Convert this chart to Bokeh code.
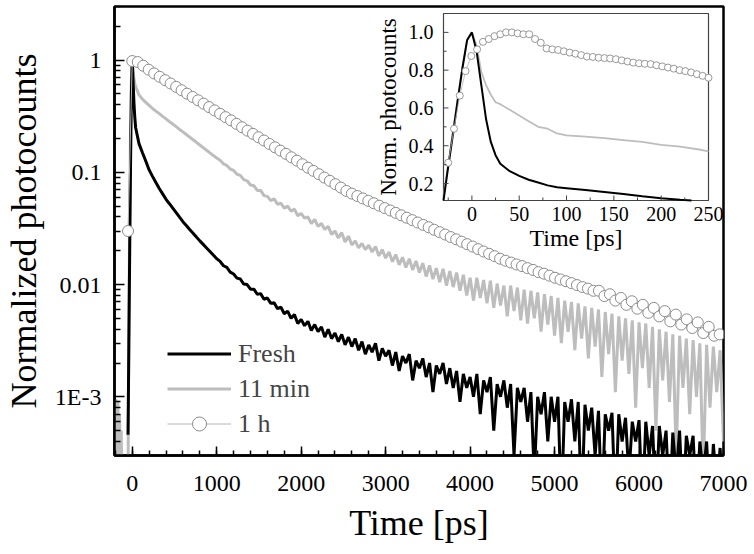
import math
from bokeh.plotting import figure
from bokeh.models import (Legend, LegendItem, FixedTicker, SingleIntervalTicker,
                          CustomJSTickFormatter, Range1d, LinearScale)
from bokeh.core.properties import value
from bokeh.embed import file_html
from bokeh.resources import INLINE
import json

# ---------------- data: main panel ----------------
t_fresh_pre = [-50, -46, -40, -30, -20, -10, 0, 10, 20, 30]
v_fresh_pre = [0.00046, 0.0009, 0.003, 0.02, 0.12, 0.5, 1.0, 0.65, 0.42, 0.31]

t_11min_pre = [-210, -200, -190, -180, -170, -160, -150, -140, -130, -120, -110, -100,
               -90, -80, -70, -60, -50, -45, -40, -30, -20, -10, 0, 10, 20, 30]
v_11min_pre = [0.0006, 0.0001, 0.00095, 0.0002, 0.0009, 0.0001, 0.0007, 0.0002, 0.0005,
               0.0001, 0.0003, 0.0001, 0.0001, 0.0001, 0.0001, 0.0001, 0.0001, 0.001,
               0.004, 0.05, 0.25, 0.7, 1.0, 0.8, 0.68, 0.62]

# TCSPC time bins of the decay part (ps)
t_decay = list(range(40, 7001, 40))

v_fresh = [
    0.251, 0.180, 0.150, 0.126, 0.105,
    0.092, 0.081, 0.0718, 0.0643, 0.0575,
    0.0525, 0.0479, 0.0437, 0.0398, 0.0363,
    0.0336, 0.0310, 0.0287, 0.0265, 0.0245,
    0.0228, 0.0212, 0.0197, 0.0183, 0.0170,
    0.0161, 0.0147, 0.0142, 0.0129, 0.0124,
    0.0114, 0.0112, 0.0101, 0.0100, 0.0091,
    0.0091, 0.0082, 0.0083, 0.0074, 0.0076,
    0.0068, 0.0069, 0.0061, 0.0063, 0.0055,
    0.0058, 0.0050, 0.0054, 0.0045, 0.0049,
    0.0043, 0.0047, 0.0039, 0.0044, 0.0038,
    0.0042, 0.0034, 0.0040, 0.0033, 0.0037,
    0.0031, 0.0036, 0.0029, 0.0034, 0.0028,
    0.0033, 0.0026, 0.0031, 0.0024, 0.0029,
    0.0025, 0.0030, 0.0021, 0.0027, 0.0023,
    0.0026, 0.0019, 0.0025, 0.0017, 0.0023,
    0.0020, 0.0024, 0.0014, 0.0021, 0.0018,
    0.0022, 0.0015, 0.0020, 0.0011, 0.0019,
    0.0016, 0.0020, 0.0013, 0.0018, 0.0012,
    0.0017, 0.0009, 0.0016, 0.0012, 0.0015,
    0.0010, 0.0016, 0.0007, 0.0014, 0.0011,
    0.0015, 0.0005, 0.0013, 0.0010, 0.0014,
    0.0008, 0.0013, 0.0003, 0.0012, 0.0009,
    0.0012, 0.0006, 0.0011, 0.0002, 0.0010,
    0.0007, 0.0011, 0.0004, 0.0010, 0.0006,
    0.0010, 0.0001, 0.0009, 0.0006, 0.00095,
    0.0004, 0.0009, 0.0001, 0.00085, 0.0005,
    0.0008, 0.0003, 0.00075, 0.0001, 0.0007,
    0.0005, 0.00072, 0.0001, 0.0007, 0.0004,
    0.00065, 0.0002, 0.0006, 0.0004, 0.00062,
    0.0001, 0.0006, 0.0003, 0.00055, 0.0001,
    0.00055, 0.0003, 0.0005, 0.0001, 0.00048,
    0.0002, 0.0005, 0.0001, 0.00045, 0.0003,
    0.00045, 0.0001, 0.0004, 0.0002, 0.0004,
    0.0001, 0.00038, 0.00015, 0.00035, 0.0001,
]

v_11min = [
    0.58, 0.49, 0.45, 0.42, 0.395,
    0.37, 0.351, 0.333, 0.315, 0.299,
    0.283, 0.269, 0.255, 0.241, 0.229,
    0.217, 0.206, 0.195, 0.185, 0.175,
    0.166, 0.157, 0.149, 0.141, 0.134,
    0.128, 0.119, 0.115, 0.107, 0.104,
    0.096, 0.094, 0.086, 0.084, 0.077,
    0.076, 0.069, 0.069, 0.062, 0.061,
    0.056, 0.058, 0.052, 0.053, 0.048,
    0.050, 0.045, 0.047, 0.041, 0.043,
    0.039, 0.040, 0.035, 0.038, 0.033,
    0.035, 0.031, 0.033, 0.028, 0.030,
    0.026, 0.029, 0.024, 0.027, 0.0225,
    0.0245, 0.0212, 0.0232, 0.0205, 0.0224,
    0.0195, 0.0218, 0.0180, 0.0205, 0.0172,
    0.0195, 0.0160, 0.0185, 0.0150, 0.0175,
    0.0142, 0.0170, 0.0135, 0.0162, 0.0128,
    0.0155, 0.0118, 0.0148, 0.0112, 0.0140,
    0.0105, 0.0138, 0.0098, 0.0132, 0.0095,
    0.0128, 0.0088, 0.0122, 0.0080, 0.0115,
    0.0072, 0.0115, 0.0076, 0.0110, 0.0068,
    0.0108, 0.0062, 0.0102, 0.0065, 0.0098,
    0.0052, 0.0098, 0.0058, 0.0094, 0.0048,
    0.0090, 0.0045, 0.0088, 0.0050, 0.0085,
    0.0038, 0.0082, 0.0044, 0.0079, 0.0035,
    0.0076, 0.0030, 0.0072, 0.0038, 0.0070,
    0.0026, 0.0068, 0.0033, 0.0064, 0.0022,
    0.0062, 0.0028, 0.0060, 0.0015, 0.0057,
    0.0024, 0.0055, 0.0011, 0.0052, 0.0021,
    0.0050, 0.0016, 0.0048, 0.0008, 0.0046,
    0.0018, 0.0045, 0.0012, 0.0042, 0.0005,
    0.0040, 0.0014, 0.0038, 0.0009, 0.0036,
    0.0003, 0.0035, 0.0012, 0.0033, 0.0007,
    0.0032, 0.0010, 0.0030, 0.0002, 0.0029,
    0.0008, 0.0028, 0.0011, 0.0026, 0.0004,
]

# 1 h sample: marker points every 65 ps
t_1h = [-50] + list(range(0, 7000, 65))
v_1h = [
    0.03,
    0.98, 0.96, 0.89, 0.82, 0.76, 0.709, 0.662, 0.618, 0.577, 0.538,
    0.502, 0.469, 0.438, 0.409, 0.381, 0.356, 0.332, 0.310, 0.290, 0.270,
    0.252, 0.235, 0.220, 0.205, 0.192, 0.179, 0.167, 0.156, 0.146, 0.136,
    0.127, 0.118, 0.110, 0.103, 0.0962, 0.0898, 0.0839, 0.0783, 0.0731, 0.0682,
    0.0646, 0.0615, 0.0585, 0.0557, 0.0530, 0.0504, 0.0480, 0.0457, 0.0435, 0.0414,
    0.0394, 0.0375, 0.0357, 0.0340, 0.0324, 0.0308, 0.0293, 0.0279, 0.0265, 0.0253,
    0.0241, 0.0229, 0.0218, 0.0207, 0.0197, 0.0188, 0.0179, 0.0170, 0.0163, 0.0157,
    0.0151, 0.0146, 0.0140, 0.0135, 0.0129, 0.0125, 0.0120, 0.0115, 0.0111, 0.0107,
    0.0103, 0.0099, 0.0095, 0.0092, 0.0088, 0.0088, 0.0079, 0.0082, 0.0072, 0.0076,
    0.0066, 0.0071, 0.0061, 0.0066, 0.0056, 0.0062, 0.0052, 0.0058, 0.0047, 0.0054,
    0.0044, 0.0049, 0.0041, 0.0046, 0.0037, 0.0042, 0.0035, 0.0036,
]

y_ticks = [0.001, 0.01, 0.1, 1]
y_tick_labels = ["1E-3", "0.01", "0.1", "1"]

# ---------------- data: inset ----------------
t_in_fresh = [-30, -25, -20, -15, -10, -5, 0, 5, 10, 15, 20, 25, 30, 40, 50, 60, 70,
              80, 90, 100, 120, 140, 160, 180, 200, 220, 232]
v_in_fresh = [0.11, 0.29, 0.46, 0.64, 0.81, 0.96, 1.0, 0.9, 0.72, 0.54, 0.42, 0.35,
              0.305, 0.265, 0.24, 0.22, 0.205, 0.19, 0.18, 0.175, 0.165, 0.155, 0.145,
              0.132, 0.122, 0.114, 0.11]

t_in_11min = [-30, -25, -20, -15, -10, -5, 0, 5, 10, 15, 20, 25, 30, 40, 50, 60, 70,
              80, 90, 100, 120, 140, 160, 180, 200, 220, 240, 250]
v_in_11min = [0.13, 0.3, 0.48, 0.65, 0.82, 0.96, 1.0, 0.93, 0.79, 0.72, 0.67, 0.63,
              0.62, 0.59, 0.56, 0.53, 0.5, 0.49, 0.465, 0.455, 0.448, 0.44, 0.43, 0.42,
              0.405, 0.395, 0.38, 0.37]

t_in_1h = [-25, -18.9, -12.8, -6.7, -0.6, 5.5, 11.7, 17.8, 23.9, 30, 36.1, 42.2, 48.3,
           54.4, 60.5, 66.7, 72.8, 78.9, 85, 91.1, 97.2, 103.3, 109.4, 115.5, 121.6,
           127.8, 133.9, 140, 146.1, 152.2, 158.3, 164.4, 170.5, 176.6, 182.7, 188.9,
           195, 201.1, 207.2, 213.3, 219.4, 225.5, 231.6, 237.7, 243.8, 250]
v_in_1h = [0.31, 0.49, 0.665, 0.795, 0.875, 0.91, 0.95, 0.965, 0.98, 0.99, 1.0, 1.0,
           0.995, 0.99, 0.99, 0.965, 0.945, 0.915, 0.91, 0.907, 0.9, 0.893, 0.887, 0.88,
           0.872, 0.87, 0.866, 0.864, 0.862, 0.858, 0.852, 0.846, 0.84, 0.836, 0.834,
           0.832, 0.826, 0.82, 0.814, 0.808, 0.8, 0.795, 0.788, 0.779, 0.77, 0.76]

inset_x_ticks = [0, 50, 100, 150, 200, 250]
inset_x_minor = [-25, 25, 75, 125, 175, 225]
inset_y_ticks = [0.2, 0.4, 0.6, 0.8, 1.0]
inset_y_minor = [0.3, 0.5, 0.7, 0.9]
inset_y_labels = ["0.2", "0.4", "0.6", "0.8", "1.0"]

# ---------------- styles / layout ----------------
FONT = "Liberation Serif"
C_BLACK = "#000000"
C_GRAY = "#bdbdbd"
C_1H_LINE = "#b4b4b4"
C_1H_MARK = "#8c8c8c"
C_INSET = "#444444"

FRAME_W, FRAME_H = 609, 449
INSET_X = (-30, 250)
INSET_Y = (0.11, 1.1)
INSET_BOX = (329, 594, 7, 194)   # left, right, top, bottom in frame pixels

# ---------------- main figure ----------------
p = figure(frame_width=FRAME_W, frame_height=FRAME_H, min_border_left=105,
           min_border_right=24, min_border_top=6, min_border_bottom=88,
           x_range=(-210, 7000), y_range=(3e-4, 3), y_axis_type="log",
           output_backend="svg", toolbar_location=None)
p.xgrid.visible = False
p.ygrid.visible = False
p.outline_line_color = "black"
p.outline_line_width = 2.5
p.background_fill_color = "white"

r_gray = p.line(t_11min_pre + t_decay, v_11min_pre + v_11min, line_color=C_GRAY, line_width=3)
r_black = p.line(t_fresh_pre + t_decay, v_fresh_pre + v_fresh, line_color=C_BLACK, line_width=3)
r_1h_line = p.line(t_1h, v_1h, line_color=C_1H_LINE, line_width=1)
r_1h_pts = p.scatter(t_1h, v_1h, marker="circle", size=11, fill_color="white",
                     line_color=C_1H_MARK, line_width=1)

xa = p.xaxis[0]
xa.ticker = SingleIntervalTicker(interval=1000, num_minor_ticks=5)
ya = p.yaxis[0]
minor = [m * 10.0 ** e for e in (-4, -3, -2, -1, 0) for m in range(2, 10)]
ya.ticker = FixedTicker(ticks=y_ticks, minor_ticks=minor)
ya.formatter = CustomJSTickFormatter(
    code="const m = %s; const k = String(tick); return (k in m) ? m[k] : '';"
    % json.dumps({("1" if v == 1 else str(v)): l for v, l in zip(y_ticks, y_tick_labels)}))

for ax in (xa, ya):
    ax.axis_line_width = 2.5
    ax.axis_line_color = "black"
    ax.major_tick_out = 0
    ax.minor_tick_out = 0
    ax.major_tick_line_width = 1.5
    ax.minor_tick_line_width = 1.5
    ax.major_tick_line_color = "black"
    ax.minor_tick_line_color = "black"
    ax.major_label_text_font = FONT
    ax.major_label_text_font_size = "24px"
    ax.major_label_text_color = "black"
    ax.axis_label_text_font = FONT
    ax.axis_label_text_font_size = "36px"
    ax.axis_label_text_font_style = "normal"
    ax.axis_label_text_color = "black"
xa.major_tick_in = 9
xa.minor_tick_in = 5
ya.major_tick_in = 10
ya.minor_tick_in = 6
xa.axis_label = "Time [ps]"
ya.axis_label = "Normalized photocounts"
xa.major_label_standoff = 20
ya.major_label_standoff = 13
xa.axis_label_standoff = 9
ya.axis_label_standoff = 8

legend = Legend(items=[LegendItem(label="Fresh", renderers=[r_black]),
                       LegendItem(label="11 min", renderers=[r_gray]),
                       LegendItem(label="1 h", renderers=[r_1h_line, r_1h_pts])],
                location=(53, 14), glyph_width=64, glyph_height=35, label_height=35,
                spacing=0, padding=0, margin=0, label_standoff=7,
                label_text_font=FONT, label_text_font_size="26px",
                border_line_alpha=0, background_fill_alpha=0)
p.add_layout(legend)

# ---------------- inset (own linear scales inside the main frame) ----------------
bl, br, bt, bb = INSET_BOX
sx = (br - bl) / (INSET_X[1] - INSET_X[0])
sy = (bb - bt) / (INSET_Y[1] - INSET_Y[0])
p.extra_x_ranges = {"ix": Range1d(INSET_X[0] - bl / sx, INSET_X[1] + (FRAME_W - br) / sx)}
p.extra_y_ranges = {"iy": Range1d(INSET_Y[0] - (FRAME_H - bb) / sy, INSET_Y[1] + bt / sy)}
p.extra_x_scales = {"ix": LinearScale()}
p.extra_y_scales = {"iy": LinearScale()}
IK = dict(x_range_name="ix", y_range_name="iy")

p.quad(left=[INSET_X[0]], right=[INSET_X[1]], bottom=[INSET_Y[0]], top=[INSET_Y[1]],
       fill_color="white", line_color=C_INSET, line_width=1.2, **IK)
p.line(t_in_11min, v_in_11min, line_color=C_GRAY, line_width=1.8, **IK)
p.line(t_in_fresh, v_in_fresh, line_color=C_BLACK, line_width=2, **IK)
p.line(t_in_1h, v_in_1h, line_color=C_1H_LINE, line_width=0.8, **IK)
p.scatter(t_in_1h, v_in_1h, marker="circle", size=7, fill_color="white",
          line_color=C_1H_MARK, line_width=0.9, **IK)

# inset ticks (inward)
p.ray(x=inset_x_ticks, y=[INSET_Y[0]] * len(inset_x_ticks), length=5, length_units="screen",
      angle=math.pi / 2, line_color=C_INSET, line_width=1, **IK)
p.ray(x=inset_x_minor, y=[INSET_Y[0]] * len(inset_x_minor), length=3, length_units="screen",
      angle=math.pi / 2, line_color=C_INSET, line_width=1, **IK)
p.ray(x=[INSET_X[0]] * len(inset_y_ticks), y=inset_y_ticks, length=5, length_units="screen",
      angle=0, line_color=C_INSET, line_width=1, **IK)
p.ray(x=[INSET_X[0]] * len(inset_y_minor), y=inset_y_minor, length=3, length_units="screen",
      angle=0, line_color=C_INSET, line_width=1, **IK)

# inset tick labels and axis titles
p.text(x=inset_x_ticks, y=[INSET_Y[0]] * len(inset_x_ticks),
       text=[str(v) for v in inset_x_ticks], y_offset=6,
       text_align="center", text_baseline="top", text_font=value(FONT),
       text_font_size="20px", text_color="black", **IK)
p.text(x=[INSET_X[0]] * len(inset_y_ticks), y=inset_y_ticks, text=inset_y_labels,
       x_offset=-10, text_align="right", text_baseline="middle", text_font=value(FONT),
       text_font_size="20px", text_color="black", **IK)
p.text(x=[(INSET_X[0] + INSET_X[1]) / 2], y=[INSET_Y[0]], text=["Time [ps]"], y_offset=24,
       text_align="center", text_baseline="top", text_font=value(FONT),
       text_font_size="24px", text_color="black", **IK)
p.text(x=[INSET_X[0]], y=[(INSET_Y[0] + INSET_Y[1]) / 2], text=["Norm. photocounts"],
       x_offset=-55, angle=math.pi / 2, text_align="center", text_baseline="middle",
       text_font=value(FONT), text_font_size="23px", text_color="black", **IK)

open("out.html", "w").write(file_html(p, INLINE))
